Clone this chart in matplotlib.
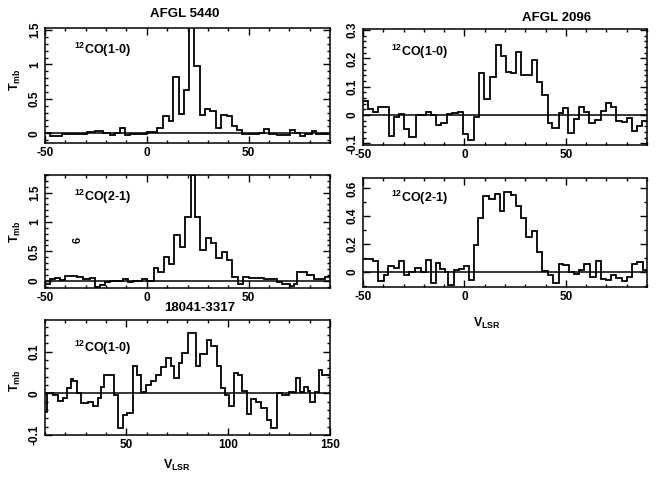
import numpy as np
import matplotlib
matplotlib.use('Agg')
import matplotlib.pyplot as plt
from matplotlib.ticker import MultipleLocator, FormatStrFormatter

plt.rcParams['font.family'] = 'Liberation Sans'
plt.rcParams['font.weight'] = 'bold'
plt.rcParams['font.size'] = 8.5
plt.rcParams['axes.unicode_minus'] = False
plt.rcParams['mathtext.fontset'] = 'custom'
plt.rcParams['mathtext.rm'] = 'Liberation Sans:bold'
plt.rcParams['mathtext.bf'] = 'Liberation Sans:bold'
plt.rcParams['mathtext.it'] = 'Liberation Sans:bold'
plt.rcParams['mathtext.default'] = 'bf'

# AFGL 5440, 12CO(1-0): channel edges (km/s) and Tmb (K)
v_5440_10 = [-50, -47.5, -41.8, -39.3, -29.5, -25.4, -21.3, -18.0, -15.6, -13.4, -10.7, -8.2, -2.5, 0,
             4.9, 7.9, 10.7, 12.8, 15.6, 18.4, 20.8, 23.0, 25.9, 28.7, 31.1, 33.9, 36.4, 39.3, 41.8,
             44.3, 46.7, 54.9, 57.4, 59.8, 63.9, 70.5, 73.0, 75.4, 77.9, 81.1, 83.3, 90]
t_5440_10 = [0.0, -0.04, -0.01, -0.015, 0.02, 0.03, 0.005, -0.03, 0.005, 0.085, -0.03, -0.015, -0.015,
             0.02, 0.08, 0.25, 0.18, 0.82, 0.28, 0.63, 1.55, 0.98, 0.27, 0.35, 0.32, 0.08, 0.26, 0.25,
             0.1, 0.05, -0.01, 0.005, 0.07, -0.01, -0.03, 0.05, 0.0, -0.04, -0.015, 0.03, -0.01]

# AFGL 5440, 12CO(2-1)
v_5440_21 = [-50, -47.5, -45.1, -42.6, -40.2, -34.4, -31.1, -27.9, -25.4, -23.0, -20.5, -18.0, -11.5,
             -9.0, -6.6, -2.5, 0, 3.3, 5.7, 8.5, 11.1, 13.6, 16.4, 18.9, 21.6, 23.9, 26.2, 29.2, 31.6,
             34.1, 36.9, 39.3, 42.1, 44.6, 47.2, 50.0, 52.5, 57.4, 63.9, 66.4, 70.5, 72.1, 73.8, 78.7,
             82.0, 87.7, 90]
t_5440_21 = [-0.05, 0.02, 0.05, 0.01, 0.08, 0.06, 0.03, 0.04, -0.1, -0.07, -0.02, 0.0, 0.03, -0.02,
             0.0, 0.03, 0.0, 0.21, 0.14, 0.40, 0.29, 0.77, 0.57, 1.08, 1.8, 1.08, 0.53, 0.73, 0.65,
             0.38, 0.49, 0.35, 0.06, -0.05, 0.07, 0.05, 0.04, 0.02, -0.02, -0.05, -0.09, -0.05, 0.15,
             0.1, 0.02, 0.07]

# 18041-3317, 12CO(1-0)
v_18041 = [10.0, 11.1, 14.1, 16.6, 18.7, 20.7, 22.6, 23.9, 25.9, 27.5, 31.3, 33.8, 36.2, 37.4, 39.2,
           43.9, 46.1, 48.2, 50.5, 53.1, 55.1, 57.0, 59.5, 62.0, 64.4, 66.9, 69.3, 71.8, 73.4, 75.6,
           77.5, 80.2, 84.1, 86.2, 89.5, 91.6, 94.4, 96.6, 98.5, 100.2, 102.6, 104.8, 106.7, 109.2,
           111.3, 113.6, 116.2, 119.0, 121.1, 123.9, 126.4, 129.7, 133.3, 135.4, 137.0, 139.2, 140.3,
           142.5, 144.4, 146.1, 150]
t_18041 = [-0.045, 0.0, -0.005, -0.018, -0.01, 0.012, 0.035, 0.03, 0.002, -0.023, -0.02, -0.03, -0.01,
           0.015, 0.045, -0.005, -0.082, -0.052, -0.048, 0.066, 0.045, 0.004, 0.02, 0.03, 0.044, 0.064,
           0.084, 0.066, 0.038, 0.074, 0.098, 0.145, 0.065, 0.094, 0.129, 0.113, 0.066, 0.012, -0.004,
           -0.03, 0.05, 0.045, 0.006, -0.05, -0.014, -0.02, -0.036, -0.063, -0.084, 0.0, -0.004, 0.003,
           0.036, 0.003, 0.016, 0.005, -0.02, 0.003, 0.057, 0.043]

# AFGL 2096, 12CO(1-0)
v_2096_10 = [-50, -47.7, -45.2, -42.5, -37.0, -34.6, -32.1, -29.7, -27.2, -23.9, -19.0, -16.6, -13.8,
             -11.6, -8.4, -5.9, -3.4, -0.5, 2.0, 4.8, 7.4, 9.8, 12.6, 15.4, 17.9, 20.5, 23.0, 25.4,
             27.9, 33.3, 35.6, 38.2, 41.0, 43.4, 46.4, 48.4, 51.3, 54.1, 56.6, 59.0, 61.5, 64.4, 67.2,
             69.7, 72.1, 74.6, 77.5, 80.3, 82.8, 85.2, 87.7, 90]
t_2096_10 = [0.05, 0.02, 0.01, 0.027, -0.073, -0.006, 0.005, -0.05, -0.076, 0.0, 0.01, 0.0, -0.035,
             -0.03, 0.002, 0.008, 0.012, -0.068, -0.088, -0.008, 0.15, 0.056, 0.135, 0.247, 0.21, 0.152,
             0.147, 0.224, 0.141, 0.194, 0.118, 0.07, -0.027, -0.047, 0.006, 0.024, -0.065, -0.014, 0.03,
             0.01, -0.03, -0.018, 0.014, 0.041, 0.03, -0.021, -0.025, -0.01, -0.056, -0.04, -0.02]

# AFGL 2096, 12CO(2-1)
v_2096_21 = [-50, -45.2, -42.5, -39.8, -37.5, -34.9, -32.1, -29.7, -27.2, -24.4, -21.5, -19.0, -16.6,
             -14.1, -12.0, -9.7, -8.0, -5.1, -2.6, -0.2, 2.3, 4.8, 6.7, 9.3, 12.1, 14.9, 17.5, 19.7, 23.0,
             25.4, 27.9, 30.3, 33.1, 35.6, 38.2, 41.0, 43.8, 46.4, 48.7, 51.6, 54.1, 56.6, 59.0, 61.8,
             64.8, 67.2, 69.7, 72.1, 74.6, 77.5, 80.3, 82.8, 85.2, 88.0, 90]
t_2096_21 = [0.09, 0.078, -0.067, -0.024, 0.043, 0.024, 0.077, -0.02, 0.0, 0.024, 0.0, 0.084, -0.084,
             0.06, 0.02, 0.0, -0.096, 0.012, 0.02, 0.043, -0.06, 0.19, 0.384, 0.547, 0.523, 0.557, 0.44,
             0.575, 0.55, 0.47, 0.39, 0.25, 0.29, 0.14, 0.005, -0.02, -0.08, 0.055, 0.045, 0.0, -0.017,
             0.01, 0.055, -0.04, 0.075, -0.055, -0.062, -0.024, -0.048, -0.07, -0.036, 0.055, 0.07, 0.012]

W, H = 657, 479
fig = plt.figure(figsize=(W / 100, H / 100), dpi=100)


def box(l, t, r, b):
    return [l / W, 1 - b / H, (r - l) / W, (b - t) / H]


def panel(rect, v, t, xlim, ylim, xmaj, ymaj, ymin, line, lab_y):
    ax = fig.add_axes(box(*rect))
    ax.stairs(t, v, color='black', lw=1.3, baseline=None)
    ax.axhline(0, color='black', lw=1.1)
    ax.set_xlim(*xlim)
    ax.set_ylim(*ylim)
    ax.xaxis.set_major_locator(MultipleLocator(xmaj))
    ax.xaxis.set_minor_locator(MultipleLocator(10))
    ax.yaxis.set_major_locator(MultipleLocator(ymaj))
    ax.yaxis.set_minor_locator(MultipleLocator(ymin))
    ax.yaxis.set_major_formatter(FormatStrFormatter('%g'))
    ax.tick_params(which='both', direction='in', top=True, right=True, width=1)
    ax.tick_params(which='major', length=5, pad=3)
    ax.tick_params(which='minor', length=2.5)
    for lbl in ax.get_yticklabels():
        lbl.set_rotation(90)
        lbl.set_va('center')
    for s in ax.spines.values():
        s.set_linewidth(1.1)
    ax.text(0.1, lab_y, line, transform=ax.transAxes, ha='left', va='center', fontsize=9)
    return ax


ax1 = panel((45, 28, 330, 143), v_5440_10, t_5440_10, (-50, 90), (-0.14, 1.53), 50, 0.5, 0.1,
            r'$^{12}$CO(1-0)', 0.81)
ax2 = panel((45, 175, 330, 288), v_5440_21, t_5440_21, (-50, 90), (-0.125, 1.8), 50, 0.5, 0.1,
            r'$^{12}$CO(2-1)', 0.81)
ax3 = panel((45, 320, 330, 435), v_18041, t_18041, (10, 150), (-0.1, 0.176), 50, 0.1, 0.02,
            r'$^{12}$CO(1-0)', 0.76)
ax4 = panel((363, 29, 647, 145), v_2096_10, t_2096_10, (-50, 90), (-0.106, 0.304), 50, 0.1, 0.02,
            r'$^{12}$CO(1-0)', 0.8)
ax5 = panel((363, 178, 647, 287), v_2096_21, t_2096_21, (-50, 90), (-0.11, 0.675), 50, 0.2, 0.1,
            r'$^{12}$CO(2-1)', 0.82)

fig.text(185 / W, 1 - 14 / H, 'AFGL 5440', ha='center', va='center', fontsize=9.5)
fig.text(557 / W, 1 - 18 / H, 'AFGL 2096', ha='center', va='center', fontsize=9.5)
fig.text(200 / W, 1 - 308 / H, '18041-3317', ha='center', va='center', fontsize=9.5)

for yc in (80, 232, 381):
    fig.text(15 / W, 1 - yc / H, r'$T_{mb}$', ha='center', va='center', rotation=90, fontsize=9)
fig.text(177 / W, 1 - 465 / H, r'$V_{LSR}$', ha='center', va='center', fontsize=9)
fig.text(487 / W, 1 - 323 / H, r'$V_{LSR}$', ha='center', va='center', fontsize=9)
fig.text(78 / W, 1 - 240 / H, '6', ha='center', va='center', rotation=90, fontsize=8)

fig.savefig('out.png', dpi=100)
